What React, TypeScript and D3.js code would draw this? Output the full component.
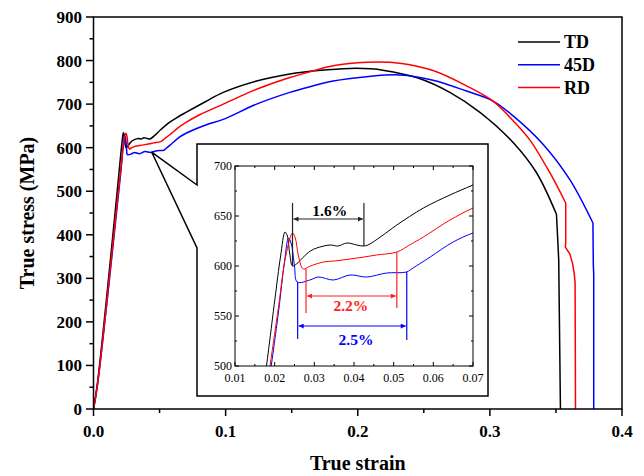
import React from 'react';
import * as d3 from 'd3';

const seriesNames = ['TD', '45D', 'RD'];
const seriesColors = ['#000000', '#0000ff', '#ff0000'];

// [true strain, true stress (MPa)]
const tdCurve: [number, number][] = [
  [0, 0], [0.003, 60], [0.018, 502], [0.02, 565], [0.0215, 610], [0.0226, 634], [0.0232, 630],
  [0.0238, 612], [0.0245, 600], [0.0255, 602], [0.027, 608], [0.029, 615], [0.0306, 618],
  [0.034, 621], [0.036, 620], [0.0382, 623], [0.0407, 621], [0.0423, 620], [0.0435, 621],
  [0.047, 630], [0.0508, 641], [0.0575, 658], [0.0642, 671], [0.07, 681], [0.085, 706],
  [0.0982, 727], [0.1234, 753], [0.1486, 769], [0.17, 777], [0.194, 782], [0.21, 781],
  [0.219, 778], [0.2445, 761], [0.2697, 727], [0.293, 680], [0.3176, 612], [0.3352, 543],
  [0.3504, 447], [0.3521, 343], [0.3534, 0],
];

const d45Curve: [number, number][] = [
  [0, 0], [0.003, 55], [0.0192, 502], [0.021, 555], [0.0225, 605], [0.0235, 628], [0.0242, 622],
  [0.025, 600], [0.0257, 584], [0.0289, 586], [0.031, 589], [0.0348, 586], [0.039, 591],
  [0.0432, 589], [0.0482, 593], [0.0532, 594], [0.0549, 598], [0.0592, 609], [0.065, 624],
  [0.07, 633], [0.085, 652], [0.0982, 665], [0.1234, 700], [0.1486, 727], [0.1638, 740],
  [0.1814, 753], [0.2067, 763], [0.2318, 767], [0.257, 755], [0.2823, 730], [0.3024, 707],
  [0.3176, 673], [0.3402, 608], [0.3604, 527], [0.378, 427], [0.3783, 330], [0.3786, 310],
  [0.3786, 0],
];

const rdCurve: [number, number][] = [
  [0, 0], [0.003, 55], [0.0189, 502], [0.021, 560], [0.0228, 610], [0.0245, 633], [0.0252, 628],
  [0.026, 610], [0.0272, 597], [0.029, 600], [0.0323, 604], [0.035, 605], [0.039, 607],
  [0.0425, 609], [0.0457, 611], [0.0508, 614], [0.054, 621], [0.0575, 629], [0.0642, 646],
  [0.07, 658], [0.08, 675], [0.0982, 700], [0.1234, 734], [0.1486, 761], [0.1638, 774],
  [0.1814, 788], [0.2067, 796], [0.2318, 794], [0.257, 777], [0.2823, 742], [0.3024, 707],
  [0.3176, 662], [0.3302, 618], [0.3453, 543], [0.3574, 473], [0.3574, 380], [0.3571, 372],
  [0.3585, 365], [0.3605, 356], [0.3625, 335], [0.3638, 312], [0.3645, 290], [0.3647, 100],
  [0.3648, 0],
];

const curves = [tdCurve, d45Curve, rdCurve];
// strain where each curve turns into its final (fracture) drop
const fractureStart = [0.3504, 0.378, 0.3574];

const xTicks = [0, 0.1, 0.2, 0.3, 0.4];
const xMinorTicks = [0.05, 0.15, 0.25, 0.35];
const yTicks = [0, 100, 200, 300, 400, 500, 600, 700, 800, 900];
const yMinorTicks = [50, 150, 250, 350, 450, 550, 650, 750, 850];

const insetXTicks = [0.01, 0.02, 0.03, 0.04, 0.05, 0.06, 0.07];
const insetXMinor = [0.015, 0.025, 0.035, 0.045, 0.055, 0.065];
const insetYTicks = [500, 550, 600, 650, 700];
const insetYMinor = [525, 575, 625, 675];

// Yield-plateau annotations (strain positions, stresses)
const plateauLabels = ['1.6%', '2.2%', '2.5%'];
const plateauColors = ['#222222', '#ff2020', '#0000ff'];
const plateauStart = [0.0245, 0.0279, 0.0258];
const plateauEnd = [0.0425, 0.0508, 0.0533];
const plateauStartStress = [600, 597, 584];
const plateauEndStress = [620, 614, 594];
const plateauStartTip = [663, 553, 527];
const plateauEndTip = [663, 558, 526];
const plateauArrow = [647, 570, 540];
const plateauTextPos: [number, number][] = [[0.0339, 655], [0.0392, 560], [0.0405, 526]];

const calloutApex: [number, number] = [0.044, 590];

export default function App() {
  const W = 644, H = 476;
  const x = d3.scaleLinear().domain([0, 0.4]).range([93.5, 622]);
  const y = d3.scaleLinear().domain([0, 900]).range([409, 17]);
  const xi = d3.scaleLinear().domain([0.01, 0.07]).range([235, 473]);
  const yi = d3.scaleLinear().domain([500, 700]).range([366, 166]);

  const smoothMain = d3.line<[number, number]>().x(d => x(d[0])).y(d => y(d[1])).curve(d3.curveCatmullRom.alpha(0.5));
  const linearMain = d3.line<[number, number]>().x(d => x(d[0])).y(d => y(d[1]));
  const insetLine = d3.line<[number, number]>().x(d => xi(d[0])).y(d => yi(d[1])).curve(d3.curveCatmullRom.alpha(0.5));

  const mainPath = (c: [number, number][], i: number) => {
    const k = c.findIndex(p => p[0] === fractureStart[i]);
    const a = smoothMain(c.slice(0, k + 1)) || '';
    const b = linearMain(c.slice(k)) || '';
    return a + ' ' + b;
  };

  const box = { l: 197, t: 144, r: 488, b: 396, gapTop: 185, gapBot: 248 };
  const ax = x(calloutApex[0]), ay = y(calloutApex[1]);
  const boxPath = `M${box.l},${box.gapTop} L${ax},${ay} L${box.l},${box.gapBot} L${box.l},${box.b} L${box.r},${box.b} L${box.r},${box.t} L${box.l},${box.t} Z`;

  const font = '"Liberation Serif", "Times New Roman", serif';
  const [ix0, ix1] = xi.range();
  const [iy0, iy1] = yi.range();

  return (
    <svg width={W} height={H} style={{ position: 'absolute', left: 0, top: 0, background: '#fff' }} fontFamily={font}>
      <defs>
        <clipPath id="insetClip">
          <rect x={ix0} y={iy1} width={ix1 - ix0} height={iy0 - iy1} />
        </clipPath>
        <clipPath id="mainClip">
          <rect x={93.5} y={17} width={622 - 93.5} height={409 - 17} />
        </clipPath>
        {plateauColors.map((c, i) => (
          <marker key={i} id={`arr${i}`} viewBox="0 0 10 10" refX="10" refY="5" markerWidth="6" markerHeight="5" orient="auto-start-reverse" markerUnits="userSpaceOnUse">
            <path d="M0,0 L10,5 L0,10 Z" fill={c} />
          </marker>
        ))}
      </defs>
      <rect width={W} height={H} fill="#fff" />

      {/* main curves */}
      <g clipPath="url(#mainClip)">
        {curves.map((c, i) => (
          <path key={i} d={mainPath(c, i)} fill="none" stroke={seriesColors[i]} strokeWidth={1.5} strokeLinejoin="round" />
        ))}
      </g>

      {/* inset box with callout */}
      <path d={boxPath} fill="#fff" stroke="#000" strokeWidth={1.5} strokeLinejoin="miter" />

      {/* main frame */}
      <rect x={93.5} y={17} width={622 - 93.5} height={409 - 17} fill="none" stroke="#000" strokeWidth={1.5} />

      {/* main x axis */}
      {xTicks.map(t => (
        <g key={t}>
          <line x1={x(t)} x2={x(t)} y1={409} y2={416} stroke="#000" strokeWidth={1.5} />
          <text x={x(t)} y={437} textAnchor="middle" fontSize={17} fontWeight="bold">{t.toFixed(1)}</text>
        </g>
      ))}
      {xMinorTicks.map(t => (
        <line key={t} x1={x(t)} x2={x(t)} y1={409} y2={413} stroke="#000" strokeWidth={1.5} />
      ))}
      {/* main y axis */}
      {yTicks.map(t => (
        <g key={t}>
          <line x1={86} x2={93.5} y1={y(t)} y2={y(t)} stroke="#000" strokeWidth={1.5} />
          <text x={82} y={y(t)} dy="0.35em" textAnchor="end" fontSize={17} fontWeight="bold">{t}</text>
        </g>
      ))}
      {yMinorTicks.map(t => (
        <line key={t} x1={89.5} x2={93.5} y1={y(t)} y2={y(t)} stroke="#000" strokeWidth={1.5} />
      ))}
      <text x={(93.5 + 622) / 2} y={470} textAnchor="middle" fontSize={20} fontWeight="bold">True strain</text>
      <text transform={`translate(34,${213}) rotate(-90)`} textAnchor="middle" fontSize={20} fontWeight="bold">True stress (MPa)</text>

      {/* legend */}
      {seriesNames.map((n, i) => (
        <g key={n}>
          <line x1={518} x2={560} y1={42 + i * 22.7} y2={42 + i * 22.7} stroke={seriesColors[i]} strokeWidth={1.5} />
          <text x={564} y={42 + i * 22.7} dy="0.35em" fontSize={18} fontWeight="bold">{n}</text>
        </g>
      ))}

      {/* inset plot */}
      <g clipPath="url(#insetClip)">
        {curves.map((c, i) => (
          <path key={i} d={insetLine(c) || ''} fill="none" stroke={seriesColors[i]} strokeWidth={1} />
        ))}
      </g>
      <rect x={ix0} y={iy1} width={ix1 - ix0} height={iy0 - iy1} fill="none" stroke="#000" strokeWidth={1} />
      {insetXTicks.map(t => (
        <g key={t}>
          <line x1={xi(t)} x2={xi(t)} y1={iy0} y2={iy0 - 4} stroke="#000" />
          <line x1={xi(t)} x2={xi(t)} y1={iy1} y2={iy1 + 4} stroke="#000" />
          <text x={xi(t)} y={382} textAnchor="middle" fontSize={12}>{t.toFixed(2)}</text>
        </g>
      ))}
      {insetXMinor.map(t => (
        <g key={t}>
          <line x1={xi(t)} x2={xi(t)} y1={iy0} y2={iy0 - 2} stroke="#000" />
          <line x1={xi(t)} x2={xi(t)} y1={iy1} y2={iy1 + 2} stroke="#000" />
        </g>
      ))}
      {insetYTicks.map(t => (
        <g key={t}>
          <line x1={ix0} x2={ix0 + 4} y1={yi(t)} y2={yi(t)} stroke="#000" />
          <line x1={ix1} x2={ix1 - 4} y1={yi(t)} y2={yi(t)} stroke="#000" />
          <text x={232} y={yi(t)} dy="0.33em" textAnchor="end" fontSize={12}>{t}</text>
        </g>
      ))}
      {insetYMinor.map(t => (
        <g key={t}>
          <line x1={ix0} x2={ix0 + 2} y1={yi(t)} y2={yi(t)} stroke="#000" />
          <line x1={ix1} x2={ix1 - 2} y1={yi(t)} y2={yi(t)} stroke="#000" />
        </g>
      ))}

      {/* plateau annotations */}
      {plateauLabels.map((lab, i) => (
        <g key={lab}>
          <line x1={xi(plateauStart[i])} x2={xi(plateauStart[i])} y1={yi(plateauStartStress[i])} y2={yi(plateauStartTip[i])} stroke={plateauColors[i]} strokeWidth={1.2} />
          <line x1={xi(plateauEnd[i])} x2={xi(plateauEnd[i])} y1={yi(plateauEndStress[i])} y2={yi(plateauEndTip[i])} stroke={plateauColors[i]} strokeWidth={1.2} />
          <line x1={xi(plateauStart[i]) + 1} x2={xi(plateauEnd[i]) - 1} y1={yi(plateauArrow[i])} y2={yi(plateauArrow[i])} stroke={plateauColors[i]} strokeWidth={1.2}
            markerStart={`url(#arr${i})`} markerEnd={`url(#arr${i})`} />
          <text x={xi(plateauTextPos[i][0])} y={yi(plateauTextPos[i][1])} dy="0.35em" textAnchor="middle" fontSize={15.5} fontWeight="bold" fill={plateauColors[i] === '#222222' ? '#000' : plateauColors[i]}>{lab}</text>
        </g>
      ))}
    </svg>
  );
}
